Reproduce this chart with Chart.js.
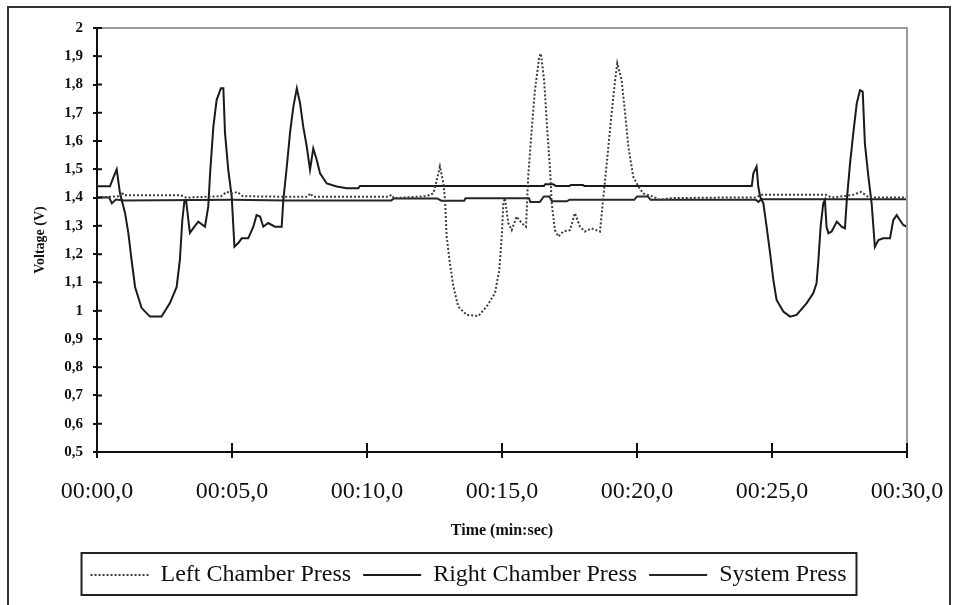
<!DOCTYPE html>
<html>
<head>
<meta charset="utf-8">
<title>Voltage</title>
<script src="https://cdn.jsdelivr.net/npm/chart.js@4.4.1/dist/chart.umd.min.js"></script>
<style>
    html, body { margin: 0; padding: 0; background: #fff; }
    #wrap { position: relative; width: 958px; height: 605px; overflow: hidden; }
    #frame { position: absolute; left: 7px; top: 6px; width: 944px; height: 700px; border: 2px solid #333; box-sizing: border-box; }
    #chart { position: absolute; left: 0; top: 0; }
</style>
</head>
<body>
<div id="wrap">
    <div id="frame"></div>
    <canvas id="chart" width="958" height="605"></canvas>
</div>
<script>
// series names
const seriesNames = ['Left Chamber Press', 'Right Chamber Press', 'System Press'];

// Left Chamber Press (dotted) - time (s) / voltage (V)
const leftTime = [0, 0.8, 0.9, 1.0, 3.1, 3.3, 4.6, 4.8, 5.0, 5.2, 5.4, 7.0, 7.8, 7.9, 8.0, 10.8, 10.9, 11.0,
    12.2, 12.46, 12.58, 12.70, 12.83, 12.89, 12.95, 13.07, 13.2, 13.38, 13.69, 14.12, 14.43, 14.74, 14.9, 14.99,
    15.05, 15.11, 15.23, 15.36, 15.54, 15.73, 15.89, 15.97, 16.1, 16.22, 16.38, 16.44, 16.56, 16.66, 16.78, 16.84,
    16.96, 17.09, 17.27, 17.52, 17.70, 17.89, 18.07, 18.32, 18.63, 18.73, 18.88, 19.06, 19.19, 19.27, 19.43, 19.56,
    19.68, 19.86, 20.05, 20.23, 20.6, 20.85, 21.2, 23.0, 24.4, 24.6, 25.0, 27.0, 27.2, 28.0, 28.3, 28.6, 30];
const leftVolt = [1.40, 1.405, 1.42, 1.408, 1.408, 1.40, 1.405, 1.42, 1.415, 1.42, 1.405, 1.403, 1.403, 1.415, 1.403, 1.403, 1.41, 1.398,
    1.405, 1.415, 1.46, 1.51, 1.45, 1.392, 1.262, 1.168, 1.085, 1.014, 0.985, 0.981, 1.014, 1.062, 1.144, 1.262,
    1.38, 1.398, 1.31, 1.285, 1.333, 1.31, 1.297, 1.474, 1.64, 1.78, 1.898, 1.91, 1.816, 1.663, 1.498, 1.38,
    1.285, 1.262, 1.28, 1.285, 1.345, 1.297, 1.28, 1.291, 1.28, 1.38, 1.521, 1.698, 1.816, 1.875, 1.816, 1.698,
    1.58, 1.474, 1.439, 1.415, 1.403, 1.392, 1.398, 1.40, 1.40, 1.41, 1.41, 1.41, 1.40, 1.41, 1.42, 1.40, 1.40];

// Right Chamber Press (solid, big swings)
const rightTime = [0, 0.48, 0.6, 0.73, 0.85, 1.04, 1.16, 1.28, 1.41, 1.65, 1.96, 2.39, 2.70, 2.95, 3.07, 3.16, 3.24, 3.30,
    3.44, 3.63, 3.75, 4.0, 4.12, 4.19, 4.31, 4.43, 4.59, 4.68, 4.74, 4.86, 4.99, 5.09, 5.24, 5.36, 5.60, 5.79,
    5.91, 6.04, 6.16, 6.34, 6.59, 6.84, 6.90, 7.03, 7.15, 7.27, 7.40, 7.52, 7.64, 7.77, 7.89, 8.01, 8.14, 8.26,
    8.51, 8.88, 9.25, 9.68, 9.74, 16.55, 16.6, 16.9, 17.0, 17.5, 17.55, 18.0, 18.05, 24.25,
    24.31, 24.43, 24.49, 24.56, 24.68, 24.80, 24.93, 25.05, 25.17, 25.42, 25.67, 25.91, 26.28, 26.53, 26.65, 26.72,
    26.80, 26.9, 26.96, 27.02, 27.09, 27.21, 27.40, 27.58, 27.70, 27.77, 27.89, 28.01, 28.14, 28.26, 28.36, 28.44,
    28.57, 28.69, 28.81, 28.94, 29.12, 29.37, 29.49, 29.62, 29.74, 29.86, 30.0];
const rightVolt = [1.44, 1.44, 1.47, 1.50, 1.416, 1.345, 1.275, 1.18, 1.084, 1.01, 0.979, 0.979, 1.027, 1.084, 1.18, 1.32, 1.39, 1.39,
    1.275, 1.30, 1.315, 1.297, 1.368, 1.487, 1.651, 1.745, 1.787, 1.787, 1.63, 1.50, 1.403, 1.226, 1.24, 1.256, 1.256, 1.297,
    1.338, 1.333, 1.297, 1.31, 1.297, 1.297, 1.39, 1.51, 1.63, 1.72, 1.787, 1.734, 1.65, 1.58, 1.498, 1.574, 1.533, 1.486,
    1.45, 1.439, 1.433, 1.433, 1.441, 1.441, 1.447, 1.447, 1.441, 1.441, 1.445, 1.445, 1.441, 1.441,
    1.486, 1.51, 1.44, 1.403, 1.38, 1.297, 1.203, 1.109, 1.038, 0.997, 0.979, 0.985, 1.026, 1.062, 1.097, 1.18,
    1.297, 1.38, 1.392, 1.297, 1.274, 1.28, 1.315, 1.297, 1.291, 1.39, 1.52, 1.627, 1.734, 1.78, 1.775, 1.592,
    1.474, 1.38, 1.226, 1.25, 1.256, 1.256, 1.32, 1.338, 1.32, 1.303, 1.297];

// System Press (solid, nearly flat)
const systemTime = [0, 0.45, 0.55, 0.7, 1.0, 5.0, 7.0, 10.9, 11.0, 12.6, 12.75, 13.6, 13.65, 14.9, 16.0, 16.05, 16.4,
    16.55, 16.75, 16.85, 17.4, 17.5, 19.9, 20.0, 20.4, 20.5, 24.4, 24.5, 24.6, 30];
const systemVolt = [1.40, 1.40, 1.38, 1.393, 1.39, 1.392, 1.39, 1.39, 1.397, 1.397, 1.389, 1.389, 1.398, 1.398, 1.398, 1.384, 1.384,
    1.404, 1.404, 1.387, 1.387, 1.392, 1.392, 1.404, 1.404, 1.392, 1.392, 1.385, 1.394, 1.394];

// x tick labels every 5 s
const timeTicks = [0, 5, 10, 15, 20, 25, 30];

const toPoints = (ts, vs) => ts.map((t, i) => ({x: t, y: vs[i]}));

// small tick stubs inside the plot, plus the grey top/right frame of the plot area
const axisExtras = {
    id: 'axisExtras',
    afterDraw(chart) {
        const {ctx, chartArea, scales} = chart;
        ctx.save();
        ctx.strokeStyle = '#9a9a9a';
        ctx.lineWidth = 2;
        ctx.beginPath();
        ctx.moveTo(chartArea.left, chartArea.top);
        ctx.lineTo(chartArea.right, chartArea.top);
        ctx.lineTo(chartArea.right, chartArea.bottom);
        ctx.stroke();

        ctx.strokeStyle = '#111';
        ctx.beginPath();
        scales.x.ticks.forEach(t => {
            const px = scales.x.getPixelForValue(t.value);
            ctx.moveTo(px, chartArea.bottom);
            ctx.lineTo(px, chartArea.bottom - 9);
        });
        scales.y.ticks.forEach(t => {
            const py = scales.y.getPixelForValue(t.value);
            ctx.moveTo(chartArea.left, py);
            ctx.lineTo(chartArea.left + 5, py);
        });
        ctx.stroke();

        // box around the legend
        const boxes = chart.legend.legendHitBoxes;
        if (boxes && boxes.length) {
            const first = boxes[0];
            const last = boxes[boxes.length - 1];
            ctx.strokeStyle = '#222';
            ctx.lineWidth = 2;
            ctx.strokeRect(first.left - 9, first.top - 10, last.left + last.width - first.left + 19, first.height + 18);
        }
        ctx.restore();
    }
};

const ctx = document.getElementById('chart').getContext('2d');
new Chart(ctx, {
    type: 'line',
    data: {
        datasets: [{
            label: seriesNames[0],
            data: toPoints(leftTime, leftVolt),
            borderColor: '#3c3c3c',
            borderWidth: 2,
            borderDash: [2, 2]
        }, {
            label: seriesNames[1],
            data: toPoints(rightTime, rightVolt),
            borderColor: '#1a1a1a',
            borderWidth: 2
        }, {
            label: seriesNames[2],
            data: toPoints(systemTime, systemVolt),
            borderColor: '#262626',
            borderWidth: 2
        }]
    },
    options: {
        responsive: false,
        animation: false,
        events: [],
        layout: {padding: {left: 30, right: 51, top: 28, bottom: 8}},
        elements: {
            point: {radius: 0},
            line: {tension: 0, fill: false}
        },
        scales: {
            x: {
                type: 'linear',
                min: 0,
                max: 30,
                afterBuildTicks: s => { s.ticks = timeTicks.map(v => ({value: v})); },
                afterFit: s => { s.height = 99; s.paddingLeft = 0; s.paddingRight = 0; },
                ticks: {
                    autoSkip: false,
                    maxRotation: 0,
                    padding: 19,
                    color: '#111',
                    font: {family: 'Liberation Serif', size: 24},
                    callback: v => '00:' + (v < 10 ? '0' : '') + v + ',0'
                },
                grid: {display: true, drawOnChartArea: false, drawTicks: true, tickLength: 6, color: '#111', lineWidth: 2},
                border: {display: true, color: '#111', width: 2},
                title: {
                    display: true,
                    text: 'Time (min:sec)',
                    color: '#111',
                    font: {family: 'Liberation Serif', size: 16, weight: 'bold'},
                    padding: {top: 0, bottom: 11}
                }
            },
            y: {
                min: 0.5,
                max: 2,
                afterFit: s => { s.width = 67; },
                ticks: {
                    stepSize: 0.1,
                    padding: 10,
                    color: '#111',
                    font: {family: 'Liberation Serif', size: 15, weight: 'bold'},
                    callback: v => String(Math.round(v * 10) / 10).replace('.', ',')
                },
                grid: {display: true, drawOnChartArea: false, drawTicks: true, tickLength: 4, color: '#111', lineWidth: 2},
                border: {display: true, color: '#111', width: 2},
                title: {
                    display: true,
                    text: 'Voltage (V)',
                    color: '#111',
                    font: {family: 'Liberation Serif', size: 14, weight: 'bold'},
                    padding: {top: 2, bottom: 0}
                }
            }
        },
        plugins: {
            legend: {
                position: 'bottom',
                labels: {
                    usePointStyle: true,
                    pointStyle: 'line',
                    pointStyleWidth: 58,
                    padding: 12,
                    color: '#111',
                    font: {family: 'Liberation Serif', size: 24},
                    // point-style items lose the dataset dash, so copy it back
                    generateLabels: chart => Chart.defaults.plugins.legend.labels.generateLabels(chart).map(item => {
                        const ds = chart.data.datasets[item.datasetIndex];
                        item.lineDash = ds.borderDash || [];
                        item.lineWidth = 2;
                        item.strokeStyle = ds.borderColor;
                        return item;
                    })
                }
            },
            tooltip: {enabled: false}
        }
    },
    plugins: [axisExtras]
});
</script>
</body>
</html>
